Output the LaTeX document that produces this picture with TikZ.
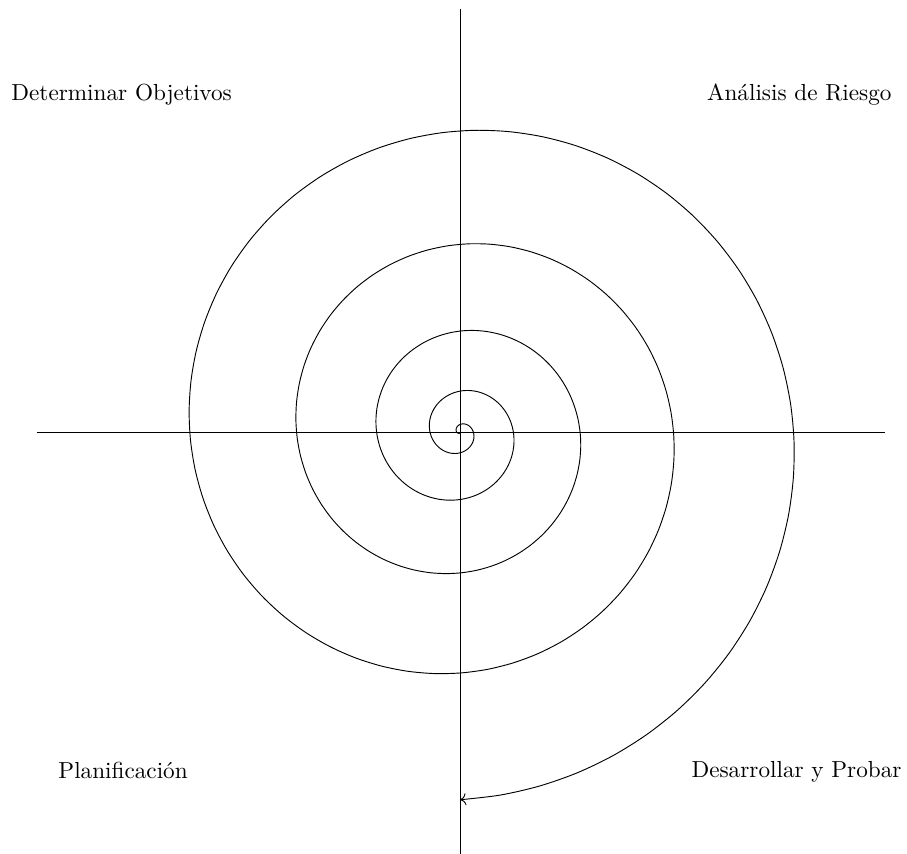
\documentclass[tikz,border=0pt]{standalone}
\usetikzlibrary{arrows.meta}
\tikzset{
  axis/.style={line width=0.4pt},
  spiralline/.style={line width=0.4pt, ->},
  lbl/.style={inner sep=0pt, font=\normalsize}
}
\begin{document}
\begin{tikzpicture}[x=0.431pt, y=0.431pt]
\useasboundingbox (-460,-422) rectangle (447,432);
% axes
\coordinate (W) at (-423,0);
\coordinate (E) at (425,0);
\coordinate (N) at (0,423);
\coordinate (S) at (0,-424);
\draw[axis] (W) -- (E);
\draw[axis] (N) -- (S);
% spiral
\draw[spiralline, domain=0:32.987, variable=\t, smooth, samples=300]
  plot ({-\t r}:{0.338*\t*\t});
% labels
\node[lbl, anchor=base west] (obj) at (-449,331) {Determinar Objetivos};
\node[lbl, anchor=base east] (rie) at (432,331) {Análisis de Riesgo};
\node[lbl, anchor=base west] (pla) at (-402,-347) {Planificación};
\node[lbl, anchor=base east] (des) at (442,-346) {Desarrollar y Probar};
\end{tikzpicture}
\end{document}
